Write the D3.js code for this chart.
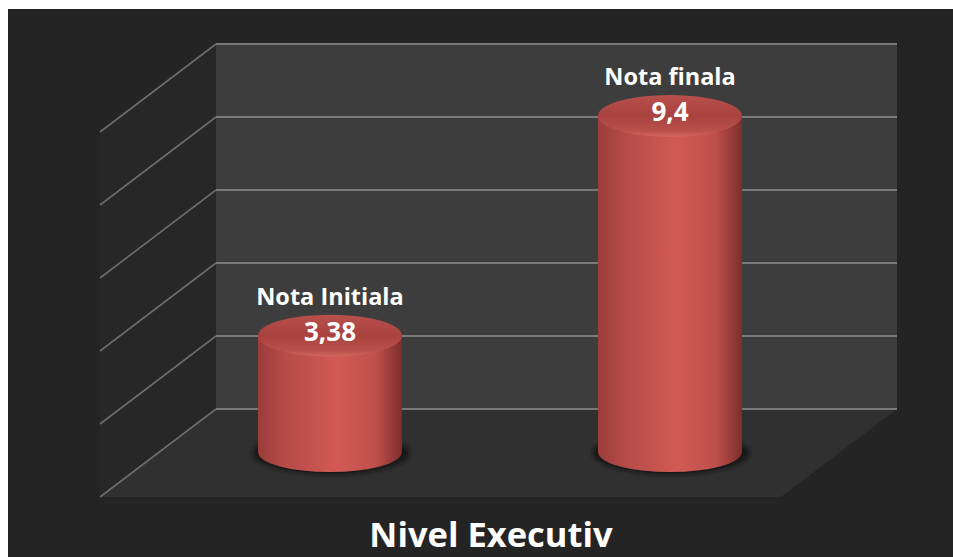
<!DOCTYPE html>
<html>
<head>
<meta charset="utf-8">
<script src="https://cdn.jsdelivr.net/npm/d3@7"></script>
<style>
  body { margin: 0; background: #fff; }
  svg { display: block; }
  text { font-family: "Open Sans", sans-serif; font-weight: bold; fill: #fff; }
</style>
</head>
<body>
<div id="chart"></div>
<script>
// data
const categories = ["Nota Initiala", "Nota finala"];
const values = [3.38, 9.4];
const valueLabels = ["3,38", "9,4"];
const tickValues = [0, 2, 4, 6, 8, 10];
const title = "Nivel Executiv";

const W = 953, H = 557;
// back wall and depth of the 3d box
const wall = { left: 216, right: 897, top: 44, bottom: 409 };
const depth = { dx: -116, dy: 88 };

const svg = d3.select("#chart").append("svg")
  .attr("width", W).attr("height", H);

const defs = svg.append("defs");
const side = defs.append("linearGradient").attr("id", "side")
  .attr("x1", 0).attr("x2", 1).attr("y1", 0).attr("y2", 0);
[[0, "#9a3d3b"], [0.18, "#b54b48"], [0.55, "#d25a56"], [0.82, "#bf4f4b"], [1, "#7c2e2c"]]
  .forEach(([o, c]) => side.append("stop").attr("offset", o).attr("stop-color", c));
const topG = defs.append("linearGradient").attr("id", "top")
  .attr("x1", 0).attr("x2", 0).attr("y1", 0).attr("y2", 1);
[[0, "#b8504c"], [0.5, "#a9423f"], [0.85, "#b9504c"], [1, "#d36660"]]
  .forEach(([o, c]) => topG.append("stop").attr("offset", o).attr("stop-color", c));
defs.append("filter").attr("id", "blur").attr("x", -0.3).attr("y", -0.5)
  .attr("width", 1.6).attr("height", 2)
  .append("feGaussianBlur").attr("stdDeviation", 2);

// background panel
svg.append("rect").attr("x", 8).attr("y", 9).attr("width", W - 8).attr("height", H - 9)
  .attr("fill", "#242424");

const y = d3.scaleLinear().domain([0, 10]).range([wall.bottom, wall.top]);

// side wall
svg.append("path")
  .attr("d", `M${wall.left + depth.dx},${wall.top + depth.dy}L${wall.left},${wall.top}L${wall.left},${wall.bottom}L${wall.left + depth.dx},${wall.bottom + depth.dy}Z`)
  .attr("fill", "#272727");
// back wall
svg.append("rect").attr("x", wall.left).attr("y", wall.top)
  .attr("width", wall.right - wall.left).attr("height", wall.bottom - wall.top)
  .attr("fill", "#3d3d3d");
// floor
svg.append("path")
  .attr("d", `M${wall.left},${wall.bottom}L${wall.right},${wall.bottom}L${wall.right + depth.dx},${wall.bottom + depth.dy}L${wall.left + depth.dx},${wall.bottom + depth.dy}Z`)
  .attr("fill", "#303030");

// gridlines
const grid = svg.append("g").attr("stroke", "#7a7a7a").attr("fill", "none");
grid.selectAll("line.h").data(tickValues).join("line")
  .attr("x1", wall.left).attr("x2", wall.right)
  .attr("y1", d => y(d)).attr("y2", d => y(d))
  .attr("stroke-width", 2);
grid.selectAll("line.d").data(tickValues).join("line")
  .attr("x1", wall.left).attr("y1", d => y(d))
  .attr("x2", wall.left + depth.dx).attr("y2", d => y(d) + depth.dy)
  .attr("stroke-width", 1.6).attr("stroke", "#6c6c6c");

// cylinders sit about halfway into the box
const x = d3.scaleBand().domain(categories).range([160, 840]);
const yc = d3.scaleLinear().domain([0, 10]).range([459, 94]);
const r = 72, ry = 20, baseY = 452;

const bars = svg.append("g").selectAll("g").data(categories).join("g");
bars.append("ellipse")
  .attr("cx", d => x(d) + x.bandwidth() / 2 + 1).attr("cy", baseY + 1)
  .attr("rx", r + 6).attr("ry", ry + 1)
  .attr("fill", "#161616").attr("filter", "url(#blur)");
bars.append("path")
  .attr("d", (d, i) => {
    const cx = x(d) + x.bandwidth() / 2, t = yc(values[i]);
    return `M${cx - r},${t}L${cx - r},${baseY}A${r},${ry} 0 0 0 ${cx + r},${baseY}L${cx + r},${t}Z`;
  })
  .attr("fill", "url(#side)");
bars.append("ellipse")
  .attr("cx", d => x(d) + x.bandwidth() / 2).attr("cy", (d, i) => yc(values[i]))
  .attr("rx", r).attr("ry", ry + 1)
  .attr("fill", "url(#top)");

// labels
bars.append("text")
  .attr("x", d => x(d) + x.bandwidth() / 2).attr("y", (d, i) => yc(values[i]) - 31)
  .attr("text-anchor", "middle").attr("font-size", 23.5)
  .text(d => d);
bars.append("text")
  .attr("x", d => x(d) + x.bandwidth() / 2).attr("y", (d, i) => yc(values[i]) + 5)
  .attr("text-anchor", "middle").attr("font-size", 26)
  .text((d, i) => valueLabels[i]);

svg.append("text").attr("x", 491).attr("y", 547)
  .attr("text-anchor", "middle").attr("font-size", 34.5)
  .text(title);
</script>
</body>
</html>
